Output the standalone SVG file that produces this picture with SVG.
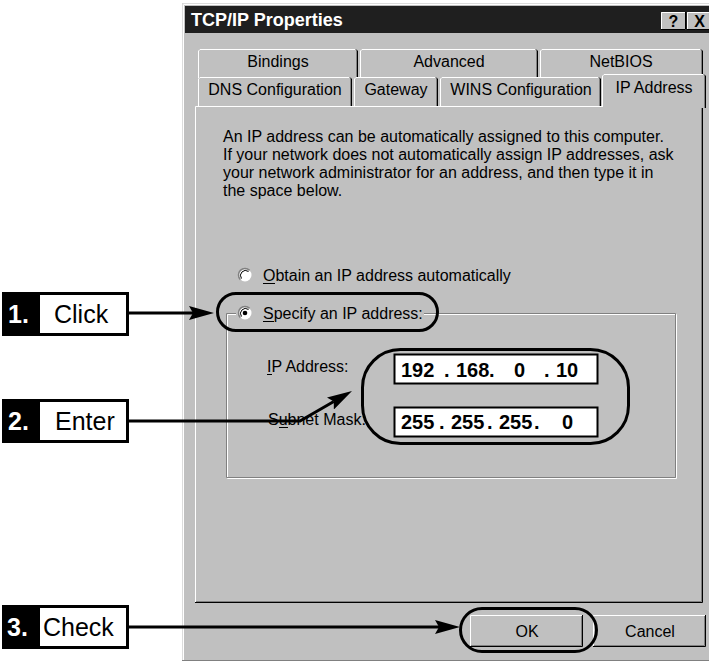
<svg xmlns="http://www.w3.org/2000/svg" width="709" height="662" viewBox="0 0 709 662">
<defs>
<style>
text { font-family: "Liberation Sans", Arial, sans-serif; }
.ui { font-size: 16px; fill: #000; }
.tab { font-size: 16px; fill: #000; text-anchor: middle; }
.hi { stroke: #fff; stroke-width: 1; fill: none; }
.sh { stroke: #808080; stroke-width: 1; fill: none; }
.dk { stroke: #000; stroke-width: 1; fill: none; }
.face { fill: #c0c0c0; }
.ring { fill: none; stroke: #000; stroke-width: 3; }
.conn { fill: none; stroke: #000; stroke-width: 3; marker-end: url(#ah); }
.num { font-size: 25px; font-weight: bold; fill: #fff; }
.lbl { font-size: 25px; fill: #000; }
.ipv { font-size: 20px; font-weight: bold; fill: #000; }
.ul { stroke: #000; stroke-width: 1; }
</style>
<marker id="ah" markerUnits="userSpaceOnUse" markerWidth="26" markerHeight="14" viewBox="0 0 26 14" refX="4" refY="7" orient="auto">
<path d="M0,0 L25,7 L0,14 L4,7 Z" fill="#000"/>
</marker>
</defs>
<rect width="709" height="662" fill="#fff"/>

<g id="window">
<rect x="182" y="3" width="530" height="658" class="face"/>
<path d="M182.5,661 V3.5 H709" stroke="#dcdcdc" fill="none"/>
<path d="M183.5,660 V4.5 H709" class="hi"/>
<path d="M182,660.5 H709" class="sh"/>
<rect x="185" y="6" width="524" height="27" fill="#1f1f1f"/>
<text x="191" y="26" font-size="18" font-weight="bold" fill="#fff">TCP/IP Properties</text>
<g id="help-btn">
<rect x="661" y="12" width="25" height="18" class="face"/>
<path d="M661.5,29 V12.5 H685" class="hi"/>
<path d="M661,29.5 H685.5 V12" class="dk"/>
<text x="673.5" y="27" font-size="16" font-weight="bold" text-anchor="middle">?</text>
</g>
<g id="close-btn">
<rect x="687" y="12" width="25" height="18" class="face"/>
<path d="M687.5,29 V12.5 H712" class="hi"/>
<path d="M687,29.5 H712" class="dk"/>
<text x="699.5" y="27" font-size="16" font-weight="bold" text-anchor="middle">X</text>
</g>
</g>

<g id="tabs-back">
<g id="tab-bindings">
<path d="M198,78 V51 L200,49 H356 L358,51 V78 Z" class="face"/>
<path d="M198.5,78 V51 L200,49.5 H355.5" class="hi"/>
<path d="M356,49.5 L357.5,51 V78" class="dk"/>
<path d="M356.5,51 V78" class="sh"/>
<text x="278" y="67" class="tab">Bindings</text>
</g>
<g id="tab-advanced">
<path d="M360,78 V51 L362,49 H536 L538,51 V78 Z" class="face"/>
<path d="M360.5,78 V51 L362,49.5 H535.5" class="hi"/>
<path d="M536,49.5 L537.5,51 V78" class="dk"/>
<path d="M536.5,51 V78" class="sh"/>
<text x="449" y="67" class="tab">Advanced</text>
</g>
<g id="tab-netbios">
<path d="M540,78 V51 L542,49 H701 L703,51 V78 Z" class="face"/>
<path d="M540.5,78 V51 L542,49.5 H700.5" class="hi"/>
<path d="M701,49.5 L702.5,51 V78" class="dk"/>
<path d="M701.5,51 V78" class="sh"/>
<text x="621" y="67" class="tab">NetBIOS</text>
</g>
<g id="tab-dns">
<path d="M198,107 V79 L200,77 H350 L352,79 V107 Z" class="face"/>
<path d="M198.5,107 V79 L200,77.5 H349.5" class="hi"/>
<path d="M350,77.5 L351.5,79 V107" class="dk"/>
<path d="M350.5,79 V107" class="sh"/>
<text x="275" y="95" class="tab">DNS Configuration</text>
</g>
<g id="tab-gateway">
<path d="M354,107 V79 L356,77 H436 L438,79 V107 Z" class="face"/>
<path d="M354.5,107 V79 L356,77.5 H435.5" class="hi"/>
<path d="M436,77.5 L437.5,79 V107" class="dk"/>
<path d="M436.5,79 V107" class="sh"/>
<text x="396" y="95" class="tab">Gateway</text>
</g>
<g id="tab-wins">
<path d="M440,107 V79 L442,77 H599 L601,79 V107 Z" class="face"/>
<path d="M440.5,107 V79 L442,77.5 H598.5" class="hi"/>
<path d="M599,77.5 L600.5,79 V107" class="dk"/>
<path d="M599.5,79 V107" class="sh"/>
<text x="521" y="95" class="tab">WINS Configuration</text>
</g>
</g>

<g id="panel">
<rect x="195" y="106" width="508" height="497" class="face"/>
<path d="M195.5,603 V106.5 H702" class="hi"/>
<path d="M702.5,106 V602.5 H195" class="dk"/>
<path d="M701.5,107 V601.5 H196" class="sh"/>
</g>

<g id="tab-ipaddress">
<path d="M602,108 V76 L604,74 H704 L706,76 V108 Z" class="face"/>
<path d="M602.5,107 V76 L604,74.5 H703.5" class="hi"/>
<path d="M704,74.5 L705.5,76 V108" class="dk"/>
<path d="M704.5,76 V108" class="sh"/>
<text x="654" y="93" class="tab">IP Address</text>
</g>

<g id="intro-text" class="ui">
<text x="223" y="142">An IP address can be automatically assigned to this computer.</text>
<text x="223" y="160">If your network does not automatically assign IP addresses, ask</text>
<text x="223" y="178">your network administrator for an address, and then type it in</text>
<text x="223" y="196">the space below.</text>
</g>

<g id="radio-obtain">
<circle cx="245" cy="275" r="6.5" fill="#fff"/>
<path d="M240.4,279.6 A6.5 6.5 0 0 1 249.6,270.4" stroke="#808080" stroke-width="1.5" fill="none"/>
<path d="M241.5,278.5 A5 5 0 0 1 248.5,271.5" stroke="#000" stroke-width="1" fill="none"/>
<text x="263" y="281" class="ui">Obtain an IP address automatically</text>
<line x1="263" y1="283.5" x2="275" y2="283.5" class="ul"/>
</g>

<g id="groupbox">
<path d="M236,314.5 H227.5 V478.5 H676.5 V314.5 H424" class="hi"/>
<path d="M236,313.5 H226.5 V477.5 H675.5 V313.5 H424" class="sh"/>
</g>

<g id="radio-specify">
<circle cx="245" cy="313" r="6.5" fill="#fff"/>
<path d="M240.4,317.6 A6.5 6.5 0 0 1 249.6,308.4" stroke="#808080" stroke-width="1.5" fill="none"/>
<path d="M241.5,316.5 A5 5 0 0 1 248.5,309.5" stroke="#000" stroke-width="1" fill="none"/>
<circle cx="245" cy="313" r="2.3" fill="#000"/>
<text x="263" y="319" class="ui">Specify an IP address:</text>
<line x1="263" y1="321.5" x2="274" y2="321.5" class="ul"/>
</g>

<g id="ip-address">
<text x="267" y="372" class="ui">IP Address:</text>
<line x1="267" y1="374.5" x2="272" y2="374.5" class="ul"/>
<rect x="394.5" y="354.5" width="203" height="29" fill="#fff" stroke="#000" stroke-width="2"/>
<text y="377" class="ipv"><tspan x="401">192</tspan><tspan x="444">.</tspan><tspan x="456">168</tspan><tspan x="489">.</tspan><tspan x="514">0</tspan><tspan x="544">.</tspan><tspan x="556">10</tspan></text>
</g>

<g id="subnet-mask">
<text x="268" y="425" class="ui">Subnet Mask:</text>
<line x1="279" y1="427.5" x2="288" y2="427.5" class="ul"/>
<rect x="394.5" y="407.5" width="203" height="29" fill="#fff" stroke="#000" stroke-width="2"/>
<text y="429" class="ipv"><tspan x="401">255</tspan><tspan x="439">.</tspan><tspan x="451">255</tspan><tspan x="487">.</tspan><tspan x="499">255</tspan><tspan x="534">.</tspan><tspan x="562">0</tspan></text>
</g>

<g id="btn-ok">
<rect x="470" y="615" width="113" height="32" class="face"/>
<path d="M470.5,646 V615.5 H582" class="hi"/>
<path d="M470,646.5 H582.5 V615" class="dk"/>
<path d="M471,645.5 H581.5 V616" class="sh"/>
<text x="527" y="637" class="ui" text-anchor="middle">OK</text>
</g>
<g id="btn-cancel">
<rect x="593" y="615" width="113" height="32" class="face"/>
<path d="M593.5,646 V615.5 H705" class="hi"/>
<path d="M593,646.5 H705.5 V615" class="dk"/>
<path d="M594,645.5 H704.5 V616" class="sh"/>
<text x="650" y="637" class="ui" text-anchor="middle">Cancel</text>
</g>

<g id="highlights">
<rect x="217.5" y="293.5" width="220" height="37" rx="18.5" class="ring"/>
<rect x="362.5" y="349.5" width="266" height="94" rx="38" class="ring"/>
<rect x="460.5" y="608.5" width="136" height="43" rx="21.5" class="ring"/>
</g>

<g id="step1">
<rect x="3.5" y="293.5" width="124" height="41" fill="#fff" stroke="#000" stroke-width="3"/>
<rect x="2" y="292" width="38" height="44" fill="#000"/>
<text x="8" y="323" class="num">1.</text>
<text x="54" y="323" class="lbl">Click</text>
</g>
<g id="step2">
<rect x="3.5" y="400.5" width="124" height="41" fill="#fff" stroke="#000" stroke-width="3"/>
<rect x="2" y="399" width="38" height="44" fill="#000"/>
<text x="8" y="430" class="num">2.</text>
<text x="55" y="430" class="lbl">Enter</text>
</g>
<g id="step3">
<rect x="3.5" y="606.5" width="124" height="41" fill="#fff" stroke="#000" stroke-width="3"/>
<rect x="2" y="605" width="38" height="44" fill="#000"/>
<text x="7" y="636" class="num">3.</text>
<text x="43" y="636" class="lbl">Check</text>
</g>

<g id="connectors">
<path class="conn" d="M128,313 H193"/>
<path class="conn" d="M128,421 H300 L333.8,401.5"/>
<path class="conn" d="M128,627 H439"/>
</g>
</svg>
